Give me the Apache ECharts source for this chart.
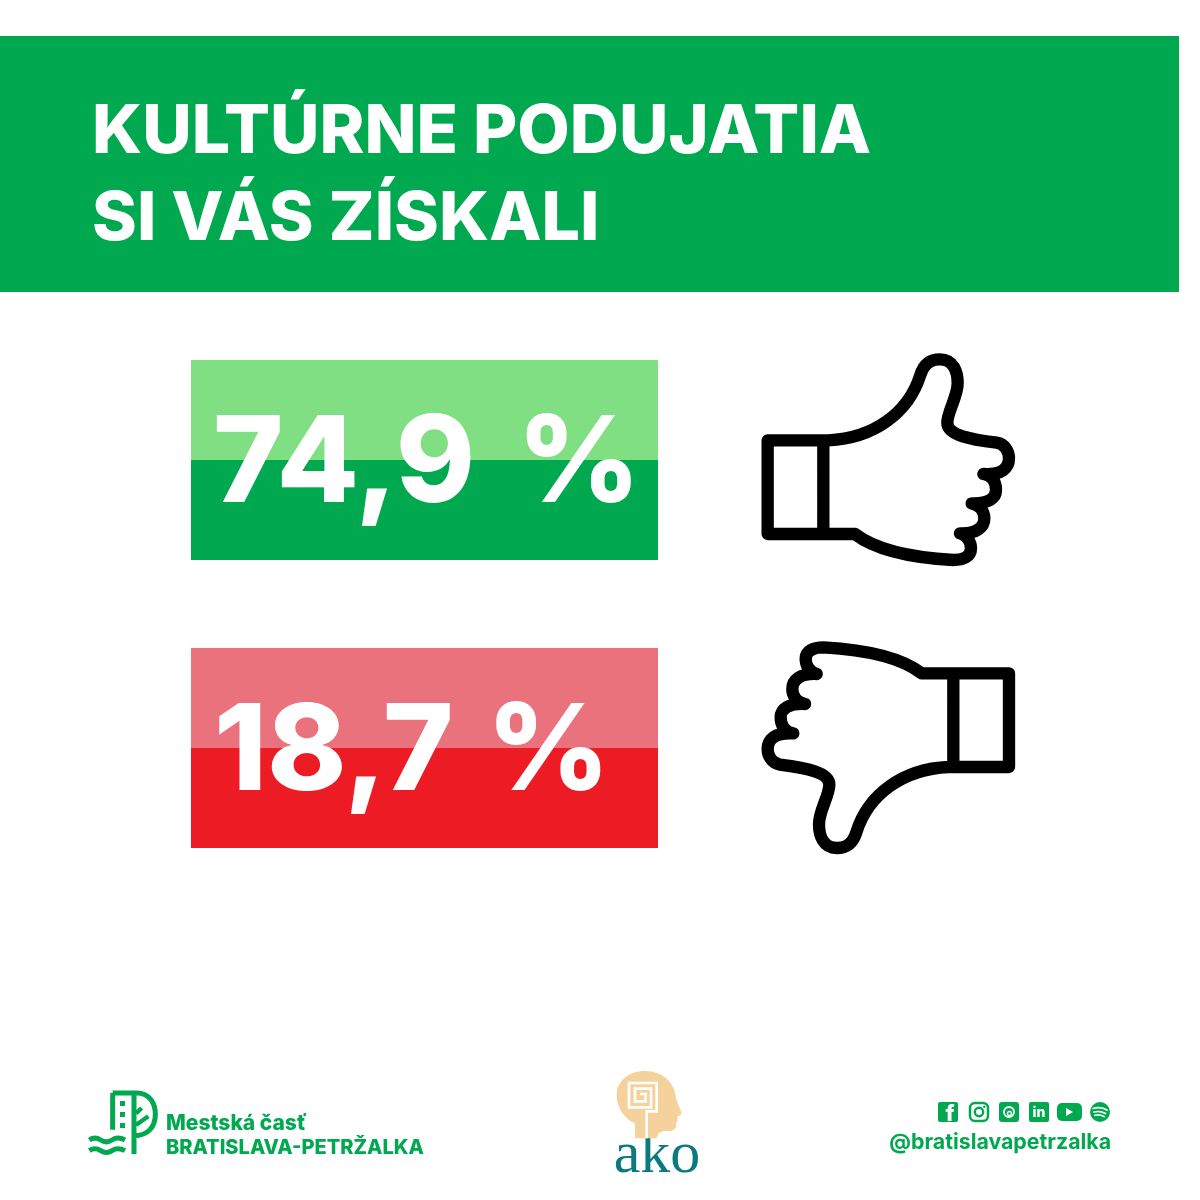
<!DOCTYPE html>
<html><head><meta charset="utf-8">
<style>html,body{margin:0;padding:0;background:#fff}#c{width:1200px;height:1200px}</style>
<script src="https://cdn.jsdelivr.net/npm/echarts@6/dist/echarts.min.js"></script>
</head><body><div id="c"></div>
<script>
const titleText = 'KULTÚRNE PODUJATIA\nSI VÁS ZÍSKALI';
const responses = ['Získali', 'Nezískali'];
const shares = [74.9, 18.7];
const bands = ['svetlý', 'tmavý'];
const bandSpan = [1, 1];
const lightColors = ['#80DF82', '#E9727D'];
const darkColors = ['#00A94F', '#ED1C24'];
const footerLeft = ['Mestská časť', 'BRATISLAVA-PETRŽALKA'];
const handle = '@bratislavapetrzalka';
const GREEN = '#00A94F';
const FONT = 'Inter';

const thumbPath = 'M83,301 L265,301 C400,295 505,220 541,105 C555,60 585,58 600,58 C640,58 653,95 653,130 C653,170 622,215 622,248 C622,285 690,298 770,308 C795,312 807,335 807,355 C807,385 785,405 730,402 C755,405 768,425 768,450 C768,475 745,492 695,490 C720,495 733,515 733,535 C733,562 710,582 660,580 C680,585 693,605 693,625 C693,650 670,660 640,660 C550,655 420,640 345,582 L83,582 Z M250,301 L250,582';
const headPath = 'M105,235 L105,190 C70,175 50,140 50,105 C50,65 85,33 135,33 C190,33 225,70 228,115 C230,125 245,155 245,160 C245,165 235,168 232,170 C235,178 232,185 228,190 C232,200 225,215 205,213 C190,212 175,212 170,235 Z';
const spiralPath = 'M140,235 L140,154 L170,154 L170,69 L87,69 L87,142 L153,142 L153,86 L105,86 L105,124 L137,124 L137,102 L120,102';
const bowlPath = 'M98,39 L170,39 C210,39 226,72 226,103 C226,140 205,167 162,167 M162,39 L162,222 M98,39 L98,149';
const branchPath = 'M168,100 L185,84 M168,135 L205,109';
const wavesPath = 'M28,180 C40,172 50,172 62,180 C74,188 84,188 96,180 C108,172 120,172 135,180 M28,212 C40,204 50,204 62,212 C74,220 84,220 96,212 C108,204 120,204 135,212';

function iconItem(){
  const thumb = {x:740,y:340,scaleX:1/3,scaleY:1/3};
  const down = {x:740+890/3,y:630+712/3,scaleX:1/3,scaleY:1/3,rotation:Math.PI};
  const stroke = {fill:'none',stroke:'#000',lineWidth:37,lineJoin:'round',lineCap:'round'};
  const logoT = {x:80,y:1080,scaleX:1/3,scaleY:1/3};
  const akoT = {x:600,y:1060,scaleX:1/3,scaleY:1/3};
  const sq = (x,y,w,h,r,fill)=>({type:'rect',shape:{x,y,width:w,height:h,r:r||0},style:{fill:fill||GREEN}});
  const txt = (x,y,t,size,col,extra)=>({type:'text',x,y,style:Object.assign({text:t,fontFamily:FONT,fontSize:size,fontWeight:800,fill:col||'#fff',verticalAlign:'middle'},extra||{})});
  const ring = (x,y,r,lw,col)=>({type:'circle',shape:{cx:x,cy:y,r},style:{fill:'none',stroke:col||GREEN,lineWidth:lw}});
  return {type:'group',children:[
    Object.assign({type:'path',shape:{pathData:thumbPath},style:stroke},thumb),
    Object.assign({type:'path',shape:{pathData:thumbPath},style:stroke},down),
    Object.assign({type:'path',shape:{pathData:bowlPath},style:{fill:'none',stroke:GREEN,lineWidth:15}},logoT),
    Object.assign({type:'path',shape:{pathData:branchPath},style:{fill:'none',stroke:GREEN,lineWidth:13}},logoT),
    Object.assign({type:'path',shape:{pathData:wavesPath},style:{fill:'none',stroke:GREEN,lineWidth:15}},logoT),
    sq(120,1101,5,5),sq(120,1112,5,5),sq(120,1123,5,5),
    Object.assign({type:'path',shape:{pathData:headPath},style:{fill:'#F5D29C'}},akoT),
    Object.assign({type:'path',shape:{pathData:spiralPath},style:{fill:'none',stroke:'#fff',lineWidth:8}},akoT),
    sq(938,1102,20,20,2), txt(950,1114,'f',22,'#fff',{align:'center'}),
    {type:'rect',shape:{x:970,y:1103,width:18,height:18,r:5},style:{fill:'none',stroke:GREEN,lineWidth:2.5}},
    ring(979,1112,4.2,2.4), {type:'circle',shape:{cx:984.3,cy:1106.7,r:1.2},style:{fill:GREEN}},
    sq(999,1102,20,20,3), ring(1009,1112,5,1.8,'#fff'), ring(1009.5,1113.5,2,1.3,'#fff'),
    sq(1029,1102,20,20,2), txt(1039,1112.5,'in',14,'#fff',{align:'center'}),
    sq(1057,1103,25,18,5), {type:'polygon',shape:{points:[[1066,1108],[1066,1116],[1073,1112]]},style:{fill:'#fff'}},
    {type:'circle',shape:{cx:1100,cy:1112,r:10},style:{fill:GREEN}},
    {type:'path',shape:{pathData:'M1093,1108.5 C1098,1107 1103,1107.5 1107,1110 M1094,1112 C1098,1111 1102,1111.5 1105.5,1113.5 M1095,1115.3 C1098,1114.5 1101,1115 1104,1116.5'},style:{fill:'none',stroke:'#fff',lineWidth:1.7,lineCap:'round'}}
  ]};
}

function barSeries(idx){
  const num = {color:'#fff',fontFamily:FONT,fontWeight:800,fontSize:120};
  return [
    {type:'bar',xAxisIndex:idx,yAxisIndex:idx,barWidth:'100%',silent:true,animation:false,
     data:[{value:bandSpan[0],itemStyle:{color:lightColors[idx]}},{value:bandSpan[1],itemStyle:{color:darkColors[idx]}}],
     z:2,
     label:{show:true,position:'insideLeft',distance:0,offset:[idx?23:22,56],
       formatter:p=>p.dataIndex===0?'{n|'+String(shares[idx]).replace('.',',')+'}{s|}{n|%}':'',
       rich:{n:num,s:{width:idx?33:42,fontSize:120}},
       color:'#fff',fontFamily:FONT,fontWeight:800,fontSize:120}}
  ];
}

const chart = echarts.init(document.getElementById('c'),null,{renderer:'canvas'});
chart.setOption({
  animation:false,
  backgroundColor:'#fff',
  title:{text:titleText,left:87,top:84,textStyle:{color:'#fff',fontFamily:FONT,fontWeight:800,fontSize:68,lineHeight:87}},
  graphic:{elements:[
    {type:'rect',z:-1,shape:{x:0,y:36,width:1179,height:256},style:{fill:GREEN}},
    {type:'text',x:166,y:1124,z:5,style:{text:footerLeft[0],fontFamily:FONT,fontWeight:800,fontSize:21,fill:GREEN,verticalAlign:'middle'}},
    {type:'text',x:166,y:1148,z:5,style:{text:footerLeft[1],fontFamily:FONT,fontWeight:800,fontSize:20,fill:GREEN,verticalAlign:'middle'}},
    {type:'text',x:1111,y:1143,z:5,style:{text:handle,fontFamily:FONT,fontWeight:700,fontSize:21.3,fill:GREEN,align:'right',verticalAlign:'middle'}},
    {type:'text',x:657,y:1156,z:5,style:{text:'ako',fontFamily:'Liberation Serif',fontSize:60,fill:'#0B7A80',align:'center',verticalAlign:'middle'}}
  ]},
  grid:[
    {left:191,top:360,width:467,height:200},
    {left:191,top:648,width:467,height:200}
  ],
  xAxis:[0,1].map(i=>({type:'value',gridIndex:i,min:0,max:1,show:false})),
  yAxis:[0,1].map(i=>({type:'category',gridIndex:i,data:bands,inverse:true,show:false})),
  series:[
    ...barSeries(0),...barSeries(1),
    {type:'custom',coordinateSystem:'none',silent:true,data:[1],z:10,renderItem:iconItem}
  ]
});
</script></body></html>
